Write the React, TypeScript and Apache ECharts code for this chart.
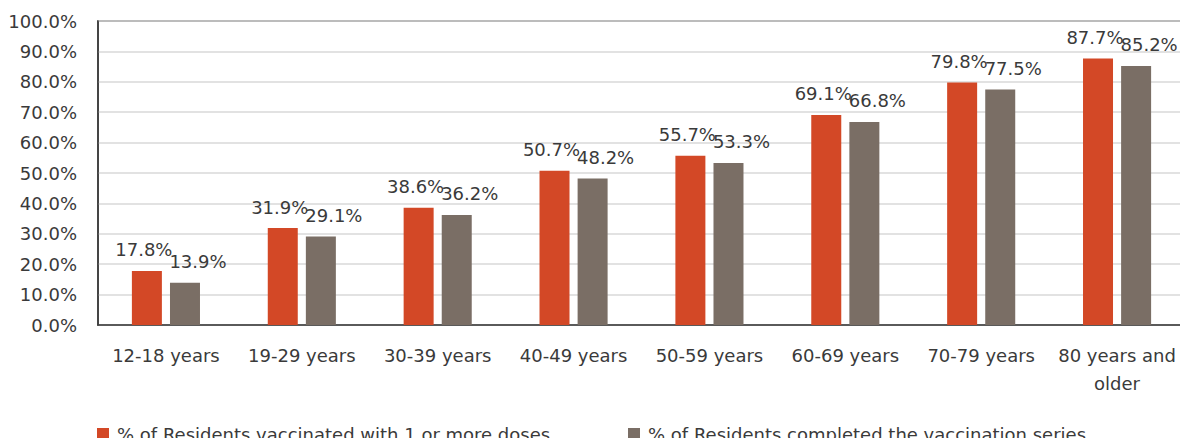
import React, { useEffect, useRef } from "react";
import * as echarts from "echarts";

const categories = [
  "12-18 years",
  "19-29 years",
  "30-39 years",
  "40-49 years",
  "50-59 years",
  "60-69 years",
  "70-79 years",
  "80 years and\nolder",
];
const oneOrMoreDoses = [17.8, 31.9, 38.6, 50.7, 55.7, 69.1, 79.8, 87.7];
const completedSeries = [13.9, 29.1, 36.2, 48.2, 53.3, 66.8, 77.5, 85.2];
const seriesNames = [
  "% of Residents vaccinated with 1 or more doses",
  "% of Residents completed the vaccination series",
];

const FONT = "'DejaVu Sans', sans-serif";
const TEXT = "#3a3a3a";
const COLORS = ["#d34826", "#7a6e65"];

export default function App() {
  const ref = useRef<HTMLDivElement>(null);
  useEffect(() => {
    if (!ref.current) return;
    const chart = echarts.init(ref.current, undefined, { renderer: "svg" });
    const label = (dx: number) => ({
      show: true,
      position: "top" as const,
      distance: 12,
      offset: [dx, 0],
      color: TEXT,
      fontFamily: FONT,
      fontSize: 18,
      formatter: (p: any) => `${p.value.toFixed(1)}%`,
    });
    const legendBase = {
      top: 424,
      padding: 0,
      itemWidth: 12,
      itemHeight: 12,
      itemGap: 0,
      icon: "rect",
      textStyle: {
        color: TEXT,
        fontSize: 18,
        fontFamily: FONT,
        lineHeight: 20,
        padding: [0, 0, 0, 3],
      },
    };
    chart.setOption({
      animation: false,
      color: COLORS,
      textStyle: { fontFamily: FONT },
      grid: {
        left: 98,
        right: 3,
        top: 21,
        bottom: 121,
        show: true,
        borderColor: "#3a3a3a",
        borderWidth: 1.5,
      },
      legend: [
        { ...legendBase, left: 97, data: [seriesNames[0]] },
        { ...legendBase, left: 628, data: [seriesNames[1]] },
      ],
      xAxis: {
        type: "category",
        data: categories,
        axisLine: { lineStyle: { color: "#3a3a3a", width: 1.5 } },
        axisTick: { show: false },
        axisLabel: {
          color: TEXT,
          fontSize: 18,
          fontFamily: FONT,
          margin: 16,
          lineHeight: 28,
          interval: 0,
        },
      },
      yAxis: {
        type: "value",
        min: 0,
        max: 100,
        interval: 10,
        axisLine: { show: true, lineStyle: { color: "#3a3a3a", width: 1.5 } },
        axisTick: { show: false },
        splitLine: { lineStyle: { color: "#d9d9d9", width: 1.5 } },
        axisLabel: {
          color: TEXT,
          fontSize: 18,
          fontFamily: FONT,
          margin: 21,
          formatter: (v: number) => `${v.toFixed(1)}%`,
        },
      },
      series: [
        {
          name: seriesNames[0],
          type: "bar",
          data: oneOrMoreDoses,
          barWidth: 30,
          barGap: "27%",
          itemStyle: { color: COLORS[0] },
          label: label(-3),
        },
        {
          name: seriesNames[1],
          type: "bar",
          data: completedSeries,
          barWidth: 30,
          itemStyle: { color: COLORS[1] },
          label: label(13),
        },
      ],
    });
    return () => chart.dispose();
  }, []);
  return <div ref={ref} style={{ width: 1188, height: 446, margin: -8 }} />;
}
